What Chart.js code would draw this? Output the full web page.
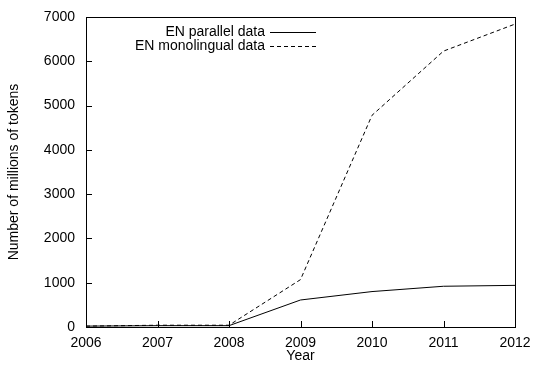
<!DOCTYPE html>
<html lang="en">
<head>
<meta charset="UTF-8">
<title>Tokens per year</title>
<script src="https://cdn.jsdelivr.net/npm/chart.js@4.4.0/dist/chart.umd.min.js"></script>
<style>
    body { margin: 0; background: #fff; }
    canvas { display: block; }
</style>
</head>
<body>
<canvas id="grafica" width="533" height="370"></canvas>
<script>
// data
const years = ['2006', '2007', '2008', '2009', '2010', '2011', '2012'];
const parallelData = [20, 30, 30, 610, 800, 920, 940];
const monolingualData = [20, 40, 40, 1070, 4780, 6230, 6840];
const seriesLabels = ['EN parallel data', 'EN monolingual data'];
const yTicks = [0, 1000, 2000, 3000, 4000, 5000, 6000, 7000];

const FONT = 'Liberation Sans, Arial, Helvetica, sans-serif';

// frame + inward tick marks (gnuplot look)
const framePlugin = {
    id: 'frame',
    afterDraw(chart) {
        const ctx = chart.ctx;
        const a = chart.chartArea;
        const x = chart.scales.x, y = chart.scales.y;
        ctx.save();
        ctx.strokeStyle = '#000';
        ctx.lineWidth = 1;
        ctx.strokeRect(Math.round(a.left) + 0.5, Math.round(a.top) + 0.5,
            Math.round(a.right - a.left), Math.round(a.bottom - a.top));
        ctx.beginPath();
        years.forEach((lab, i) => {
            const px = Math.round(x.getPixelForValue(i)) + 0.5;
            ctx.moveTo(px, a.bottom);
            ctx.lineTo(px, a.bottom - 6);
        });
        yTicks.forEach(v => {
            const py = Math.round(y.getPixelForValue(v)) + 0.5;
            ctx.moveTo(a.left, py);
            ctx.lineTo(a.left + 6, py);
        });
        ctx.stroke();
        ctx.restore();
    }
};

// legend: text right aligned, sample line on the right
const keyPlugin = {
    id: 'key',
    afterDraw(chart) {
        const ctx = chart.ctx;
        ctx.save();
        ctx.font = '14px ' + FONT;
        ctx.fillStyle = '#000';
        ctx.textAlign = 'right';
        ctx.textBaseline = 'middle';
        chart.data.datasets.forEach((ds, i) => {
            const yy = 32 + i * 14;
            ctx.fillText(ds.label, 265, yy);
            ctx.beginPath();
            ctx.setLineDash(ds.borderDash || []);
            ctx.lineWidth = 1;
            ctx.strokeStyle = '#000';
            ctx.moveTo(270, Math.round(yy) + 0.5);
            ctx.lineTo(316, Math.round(yy) + 0.5);
            ctx.stroke();
        });
        ctx.restore();
    }
};

new Chart(document.getElementById('grafica'), {
    type: 'line',
    data: {
        labels: years,
        datasets: [
            {
                label: seriesLabels[0],
                data: parallelData,
                borderColor: '#000',
                borderWidth: 1,
                pointRadius: 0,
                tension: 0,
                fill: false
            },
            {
                label: seriesLabels[1],
                data: monolingualData,
                borderColor: '#000',
                borderWidth: 1,
                borderDash: [4, 3],
                pointRadius: 0,
                tension: 0,
                fill: false
            }
        ]
    },
    options: {
        responsive: false,
        animation: false,
        events: [],
        layout: { padding: { left: 0, top: 17, right: 18, bottom: 0 } },
        plugins: {
            legend: { display: false },
            tooltip: { enabled: false }
        },
        scales: {
            x: {
                type: 'category',
                offset: false,
                grid: { display: false, drawTicks: false },
                border: { display: false },
                ticks: {
                    color: '#000',
                    font: { family: FONT, size: 14 },
                    padding: 8,
                    maxRotation: 0,
                    autoSkip: false
                },
                title: {
                    display: true,
                    text: 'Year',
                    color: '#000',
                    font: { family: FONT, size: 14 },
                    padding: { top: 0, bottom: 5 }
                },
                afterFit(scale) {
                    scale.height = 43;
                    scale.paddingLeft = 0;
                    scale.paddingRight = 0;
                }
            },
            y: {
                min: 0,
                max: 7000,
                grid: { display: false, drawTicks: false },
                border: { display: false },
                afterBuildTicks(scale) {
                    scale.ticks = yTicks.map(v => ({ value: v }));
                },
                ticks: {
                    color: '#000',
                    font: { family: FONT, size: 14 },
                    padding: 11,
                    callback: v => String(v)
                },
                title: {
                    display: true,
                    text: 'Number of millions of tokens',
                    color: '#000',
                    font: { family: FONT, size: 14 },
                    padding: { top: 6, bottom: 0 }
                },
                afterFit(scale) {
                    scale.width = 86;
                    scale.paddingTop = 0;
                    scale.paddingBottom = 0;
                }
            }
        }
    },
    plugins: [framePlugin, keyPlugin]
});
</script>
</body>
</html>
